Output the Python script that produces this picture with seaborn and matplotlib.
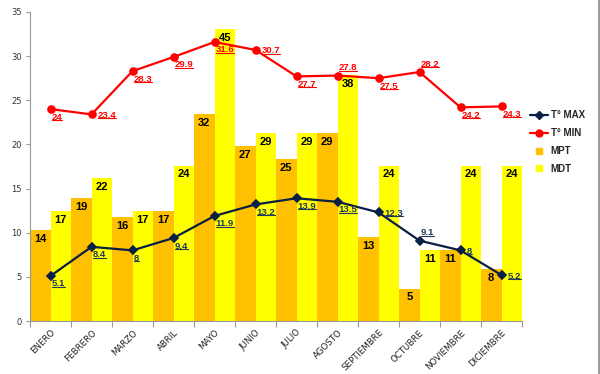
import numpy as np
import pandas as pd
import matplotlib
matplotlib.use("Agg")
import matplotlib.pyplot as plt
from matplotlib.lines import Line2D
import seaborn as sns

meses = ["ENERO", "FEBRERO", "MARZO", "ABRIL", "MAYO", "JUNIO", "JULIO",
         "AGOSTO", "SEPTIEMBRE", "OCTUBRE", "NOVIEMBRE", "DICIEMBRE"]
t_max = [5.1, 8.4, 8, 9.4, 11.9, 13.2, 13.9, 13.5, 12.3, 9.1, 8, 5.2]
t_min = [24, 23.4, 28.3, 29.9, 31.6, 30.7, 27.7, 27.8, 27.5, 28.2, 24.2, 24.3]
mpt = [14, 19, 16, 17, 32, 27, 25, 29, 13, 5, 11, 8]
mdt = [17, 22, 17, 24, 45, 29, 29, 38, 24, 11, 24, 24]
y_ticks = [0, 5, 10, 15, 20, 25, 30, 35]

# label placement styles (not data)
pos_min = ["below", "right", "below", "below", "below", "right", "below",
           "above", "below", "above", "below", "below"]
pos_max = ["below", "below", "below", "below", "below", "below", "below",
           "below", "right", "above", "right", "right"]

sns.set_theme(style="white")
plt.rcParams["font.family"] = ["DejaVu Sans"]

C_MPT = "#FFC000"
C_MDT = "#FFFF00"
C_MIN = "#FF0000"
C_MAX = "#0A1F44"

fig = plt.figure(figsize=(6.0, 3.74), dpi=100)
ax = fig.add_axes([0.05, 0.1417, 0.82, 0.8263])

bars = pd.DataFrame({
    "mes": meses * 2,
    "valor": mpt + mdt,
    "serie": ["MPT"] * 12 + ["MDT"] * 12,
})
sns.barplot(data=bars, x="mes", y="valor", hue="serie", order=meses,
            hue_order=["MPT", "MDT"], palette=[C_MPT, C_MDT], width=1.0,
            gap=0, linewidth=0, saturation=1, errorbar=None, legend=False,
            ax=ax)
ax.set_ylim(0, 47.7)
for cont in ax.containers:
    ax.bar_label(cont, labels=[f"{int(v)}" for v in cont.datavalues],
                 padding=-10, fontsize=8, fontweight="bold", color="black",
                 family="Liberation Sans")

ax2 = ax.twinx()
lines = pd.DataFrame({"mes": meses, "tmax": t_max, "tmin": t_min})
sns.pointplot(data=lines, x="mes", y="tmax", order=meses, color=C_MAX,
              marker="D", markersize=4, linewidth=1.6, errorbar=None, ax=ax2)
sns.pointplot(data=lines, x="mes", y="tmin", order=meses, color=C_MIN,
              marker="o", markersize=5, linewidth=1.6, errorbar=None, ax=ax2)
ax2.set_ylim(0, 35)
ax2.set_xlim(-0.5, 11.5)

offs = {"below": (1, -8), "right": (6, -1), "above": (1, 8)}
texts = []


def lab(vals, poss, color):
    for i, (v, p) in enumerate(zip(vals, poss)):
        t = ax2.annotate(f"{v:g}", (i, v), xytext=offs[p],
                         textcoords="offset pixels", ha="left", va="center",
                         fontsize=6.8, fontweight="bold", color=color,
                         family="Liberation Sans")
        texts.append((t, color))


lab(t_min, pos_min, C_MIN)
lab(t_max, pos_max, "#1F3A5A")

# y axis on left from line axis
ax.tick_params(axis="y", left=False, right=False, labelleft=False, labelright=False)
ax2.yaxis.tick_left()
ax2.yaxis.set_label_position("left")
ax2.set_yticks(y_ticks)
ax2.tick_params(axis="y", left=True, right=False, labelleft=True, labelright=False,
                length=3, width=0.8, color="#999999", labelsize=6,
                labelcolor="#333333", pad=3)
ax.set_ylabel("")
ax2.set_ylabel("")
ax.set_xlabel("")
ax2.set_xlabel("")

ax.set_xlim(-0.5, 11.5)
ax.set_xticks(range(12))
ax.set_xticklabels(meses, rotation=45, ha="right", rotation_mode="anchor",
                   fontsize=6.2, color="#222222")
ax.set_xticks(np.arange(-0.5, 12, 1), minor=True)
ax.tick_params(axis="x", which="major", length=0, pad=5, bottom=True)
ax.tick_params(axis="x", which="minor", length=4, width=0.8, color="#999999",
               bottom=True)

for a in (ax, ax2):
    for s in ["top", "right", "left", "bottom"]:
        a.spines[s].set_visible(False)
ax2.spines["left"].set_visible(True)
ax2.spines["left"].set_color("#999999")
ax2.spines["left"].set_linewidth(0.8)
ax.spines["bottom"].set_visible(True)
ax.spines["bottom"].set_color("#999999")
ax.spines["bottom"].set_linewidth(0.8)
ax.grid(False)
ax2.grid(False)

handles = [
    Line2D([], [], color=C_MAX, marker="D", markersize=4, linewidth=1.6),
    Line2D([], [], color=C_MIN, marker="o", markersize=5, linewidth=1.6),
    Line2D([], [], color=C_MPT, marker="s", markersize=5, linestyle="none"),
    Line2D([], [], color=C_MDT, marker="s", markersize=5, linestyle="none"),
]
fig.legend(handles, ["T° MAX", "T° MIN", "MPT", "MDT"], loc="upper left",
           bbox_to_anchor=(0.877, 0.715), frameon=False, handlelength=1.8,
           handletextpad=0.3, labelspacing=0.8, borderaxespad=0,
           prop={"family": "Liberation Sans", "weight": "bold", "size": 7})

fig.add_artist(Line2D([0.9975, 0.9975], [0, 1], transform=fig.transFigure,
                      color="#888888", linewidth=1.2))

# underline the line data labels
fig.canvas.draw()
r = fig.canvas.get_renderer()
W, H = fig.bbox.width, fig.bbox.height
for t, c in texts:
    bb = t.get_window_extent(r)
    y = bb.y0 + 1.5
    fig.add_artist(Line2D([bb.x0 / W, bb.x1 / W], [y / H, y / H],
                          transform=fig.transFigure, color=c, linewidth=0.8))

fig.savefig("out.png", dpi=100)
